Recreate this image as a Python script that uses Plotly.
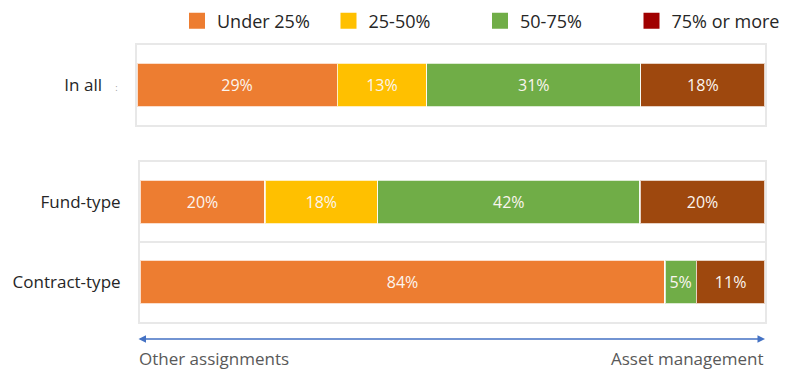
import plotly.graph_objects as go

# ---- data ----
series_names = ["Under 25%", "25-50%", "50-75%", "75% or more"]
bar_colors = ["#ED7D31", "#FFC000", "#70AD47", "#9E480E"]
legend_colors = ["#ED7D31", "#FFC000", "#70AD47", "#A00000"]

top_categories = ["In all"]
top_values = {
    "Under 25%": [29],
    "25-50%": [13],
    "50-75%": [31],
    "75% or more": [18],
}

bottom_categories = ["Fund-type", "Contract-type"]
bottom_values = {
    "Under 25%": [20, 84],
    "25-50%": [18, 0],
    "50-75%": [42, 5],
    "75% or more": [20, 11],
}

left_label = "Other assignments"
right_label = "Asset management"

W, H = 800, 384
OX, OY = 8, 8  # page offset of the plot div inside the browser page
FONT = "Open Sans"


def px(x):
    return (x - OX) / W


def py(y):
    return 1 - (y - OY) / H


fig = go.Figure()


def add_bars(values, cats, xa, ya):
    for name, col in zip(series_names, bar_colors):
        vals = values[name]
        fig.add_trace(go.Bar(
            x=vals, y=cats, orientation="h", name=name,
            marker=dict(color=col, line=dict(color="rgba(255,255,255,0.75)", width=1.2)),
            text=[f"{v}%" if v else "" for v in vals],
            textposition="inside", insidetextanchor="middle",
            textfont=dict(color="#FBF5EF", size=16, family=FONT),
            showlegend=False, hoverinfo="skip",
            xaxis=xa, yaxis=ya,
        ))


add_bars(top_values, top_categories, "x", "y")
add_bars(bottom_values, bottom_categories, "x2", "y2")

# legend entries (legend swatch colours differ from bars in the original)
for name, col in zip(series_names, legend_colors):
    fig.add_trace(go.Scatter(
        x=[None], y=[None], mode="markers", name=name,
        marker=dict(symbol="square", size=20, color=col),
        showlegend=True, xaxis="x", yaxis="y",
    ))

frame = "#E8E8E8"
axis_common = dict(showline=True, mirror=True, linecolor=frame, linewidth=2,
                   zeroline=False, fixedrange=True, automargin=False)

top_ticktext = ["In all&nbsp;&nbsp;&nbsp;<span style='font-size:9px;color:#999999'>:</span>"]

fig.update_layout(
    width=W, height=H, autosize=False,
    margin=dict(l=0, r=0, t=0, b=0, autoexpand=False),
    paper_bgcolor="white", plot_bgcolor="white",
    barmode="stack", barnorm="percent", bargap=0.46,
    font=dict(family=FONT, color="#262626", size=17),
    uniformtext=dict(mode="show", minsize=8),
    xaxis=dict(domain=[px(137), px(765)], range=[0, 100], showticklabels=False,
               showgrid=False, ticks="", anchor="y", **axis_common),
    yaxis=dict(domain=[py(125), py(45)], anchor="x",
               showgrid=False, ticks="", ticklabelstandoff=14,
               tickmode="array", tickvals=top_categories, ticktext=top_ticktext,
               tickfont=dict(size=17, color="#262626"), **axis_common),
    xaxis2=dict(domain=[px(140), px(765)], range=[0, 100], showticklabels=False,
                showgrid=False, ticks="", anchor="y2", **axis_common),
    yaxis2=dict(domain=[py(322), py(162)], anchor="x2",
                autorange="reversed", tickson="boundaries", showgrid=True,
                gridcolor=frame, gridwidth=2, ticks="", ticklabelstandoff=14,
                tickfont=dict(size=17, color="#262626"), **axis_common),
    legend=dict(orientation="h", x=px(177), y=py(21), xanchor="left",
                yanchor="middle", font=dict(size=18, color="#262626"),
                traceorder="normal",
                itemsizing="trace", entrywidth=106.5, entrywidthmode="pixels",
                bgcolor="rgba(0,0,0,0)"),
)

# double-headed axis arrow
fig.add_annotation(x=px(765), y=py(339), xref="paper", yref="paper",
                   ax=-628, ay=0, text="", showarrow=True,
                   arrowhead=2, startarrowhead=2, arrowside="end+start",
                   arrowsize=1, startarrowsize=1, arrowwidth=1.5, arrowcolor="#4472C4")
fig.add_annotation(x=px(137), y=py(358), xref="paper", yref="paper",
                   text=left_label, showarrow=False, xanchor="left", yanchor="middle",
                   font=dict(size=17, color="#595959"))
fig.add_annotation(x=px(766), y=py(358), xref="paper", yref="paper",
                   text=right_label, showarrow=False, xanchor="right", yanchor="middle",
                   font=dict(size=17, color="#595959"))

fig.write_html("out.html")
